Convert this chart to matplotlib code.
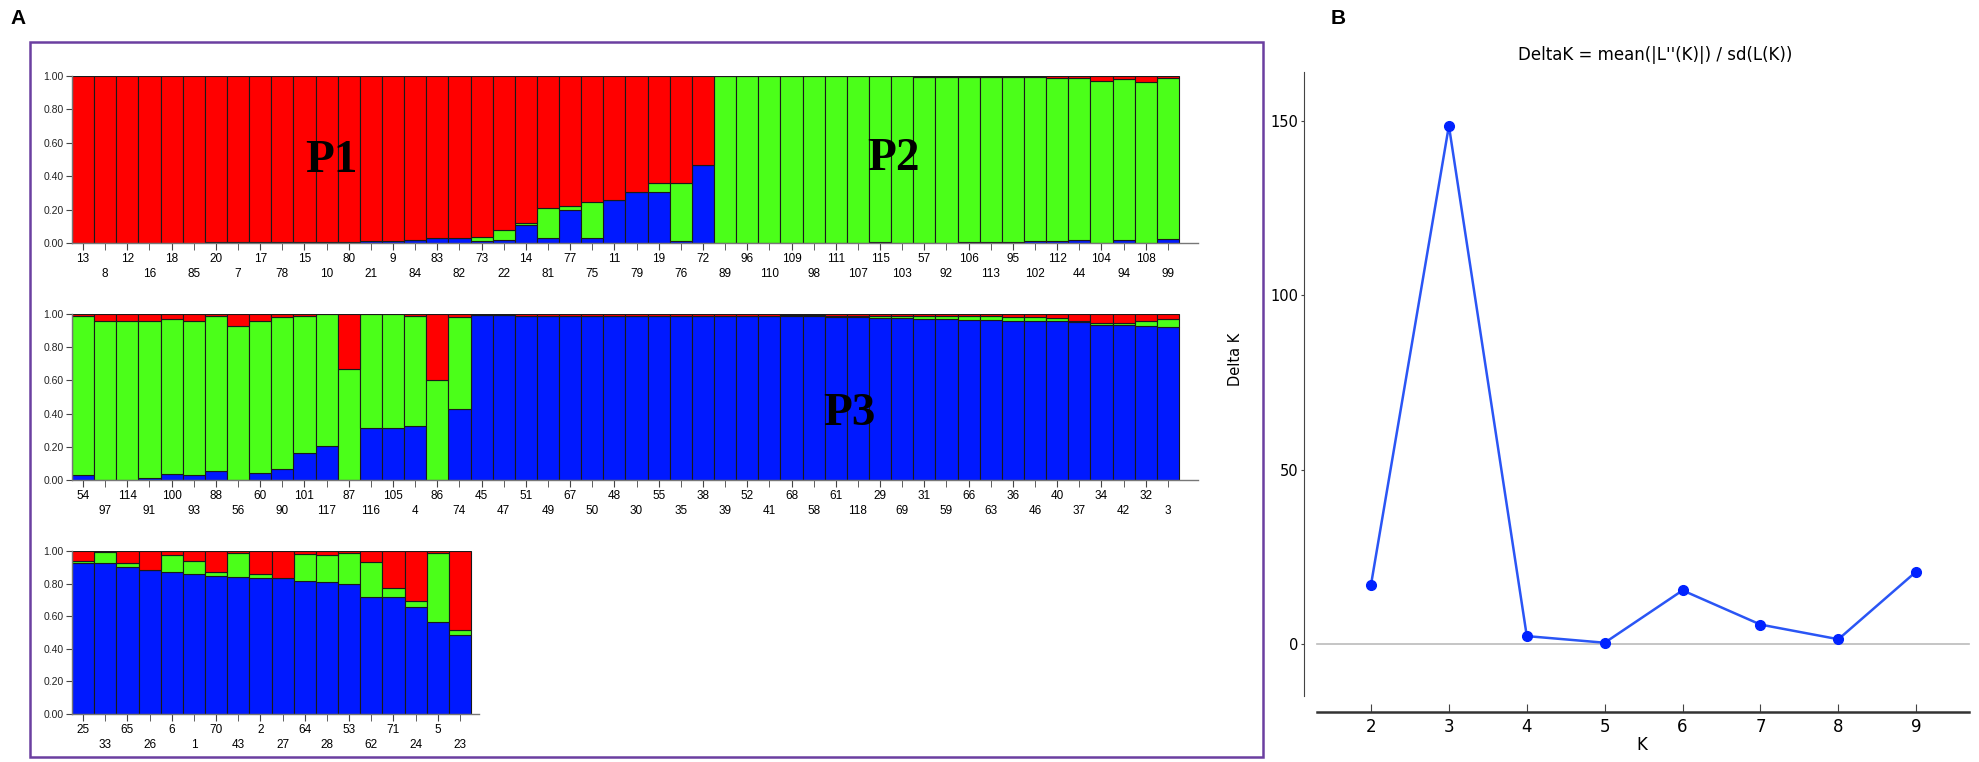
import matplotlib.pyplot as plt
import numpy as np
from matplotlib.patches import Rectangle

# --- STRUCTURE bar data (K=3), three rows of individuals ---
row1_labels = ['13', '8', '12', '16', '18', '85', '20', '7', '17', '78', '15', '10', '80', '21', '9', '84',
               '83', '82', '73', '22', '14', '81', '77', '75', '11', '79', '19', '76', '72', '89', '96', '110',
               '109', '98', '111', '107', '115', '103', '57', '92', '106', '113', '95', '102', '112', '44',
               '104', '94', '108', '99']
row1_blue = [0.0, 0.0, 0.0, 0.0, 0.0, 0.0, 0.005, 0.005, 0.005, 0.005, 0.005, 0.005, 0.008, 0.01, 0.012, 0.015,
             0.03, 0.03, 0.01, 0.015, 0.11, 0.03, 0.20, 0.03, 0.26, 0.307, 0.307, 0.01, 0.47,
             0.0, 0.0, 0.0, 0.0, 0.0, 0.0, 0.0, 0.005, 0.0, 0.0, 0.0, 0.005, 0.005, 0.005, 0.01, 0.01, 0.02,
             0.0, 0.015, 0.0, 0.025]
row1_green = [0.0, 0.0, 0.0, 0.0, 0.0, 0.0, 0.0, 0.0, 0.0, 0.0, 0.0, 0.0, 0.0, 0.0, 0.0, 0.0,
              0.0, 0.0, 0.025, 0.06, 0.01, 0.177, 0.02, 0.216, 0.0, 0.0, 0.051, 0.35, 0.0,
              1.0, 1.0, 1.0, 1.0, 1.0, 1.0, 1.0, 0.995, 1.0, 0.995, 0.995, 0.99, 0.99, 0.99, 0.985, 0.98, 0.97,
              0.97, 0.965, 0.965, 0.965]
row1_red = [1.0, 1.0, 1.0, 1.0, 1.0, 1.0, 0.995, 0.995, 0.995, 0.995, 0.995, 0.995, 0.992, 0.99, 0.988, 0.985,
            0.97, 0.97, 0.965, 0.925, 0.88, 0.793, 0.78, 0.754, 0.74, 0.693, 0.642, 0.64, 0.53,
            0.0, 0.0, 0.0, 0.0, 0.0, 0.0, 0.0, 0.0, 0.0, 0.005, 0.005, 0.005, 0.005, 0.005, 0.005, 0.01, 0.01,
            0.03, 0.02, 0.035, 0.01]

row2_labels = ['54', '97', '114', '91', '100', '93', '88', '56', '60', '90', '101', '117', '87', '116', '105',
               '4', '86', '74', '45', '47', '51', '49', '67', '50', '48', '30', '55', '35', '38', '39', '52',
               '41', '68', '58', '61', '118', '29', '69', '31', '59', '66', '63', '36', '46', '40', '37', '34',
               '42', '32', '3']
row2_blue = [0.03, 0.0, 0.0, 0.01, 0.036, 0.03, 0.056, 0.0, 0.044, 0.064, 0.16, 0.204, 0.0, 0.316, 0.316,
             0.326, 0.0, 0.43, 0.995, 0.995, 0.99, 0.99, 0.99, 0.99, 0.99, 0.99, 0.99, 0.99, 0.99, 0.99, 0.99,
             0.985, 0.985, 0.985, 0.98, 0.98, 0.975, 0.975, 0.97, 0.97, 0.965, 0.965, 0.96, 0.96, 0.955, 0.95,
             0.935, 0.935, 0.93, 0.92]
row2_green = [0.96, 0.96, 0.96, 0.95, 0.934, 0.93, 0.934, 0.93, 0.916, 0.916, 0.83, 0.796, 0.67, 0.684,
              0.684, 0.664, 0.60, 0.55, 0.0, 0.0, 0.0, 0.0, 0.0, 0.0, 0.0, 0.0, 0.0, 0.0, 0.0, 0.0, 0.0,
              0.005, 0.008, 0.008, 0.01, 0.01, 0.012, 0.012, 0.015, 0.015, 0.02, 0.02, 0.02, 0.02, 0.02, 0.01,
              0.01, 0.01, 0.03, 0.05]
row2_red = [0.01, 0.04, 0.04, 0.04, 0.03, 0.04, 0.01, 0.07, 0.04, 0.02, 0.01, 0.0, 0.33, 0.0, 0.0,
            0.01, 0.40, 0.02, 0.005, 0.005, 0.01, 0.01, 0.01, 0.01, 0.01, 0.01, 0.01, 0.01, 0.01, 0.01, 0.01,
            0.01, 0.007, 0.007, 0.01, 0.01, 0.013, 0.013, 0.015, 0.015, 0.015, 0.015, 0.02, 0.02, 0.025, 0.04,
            0.055, 0.055, 0.04, 0.03]

row3_labels = ['25', '33', '65', '26', '6', '1', '70', '43', '2', '27', '64', '28', '53', '62', '71', '24',
               '5', '23']
row3_blue = [0.924, 0.925, 0.904, 0.883, 0.873, 0.857, 0.849, 0.843, 0.832, 0.832, 0.816, 0.812, 0.80,
             0.716, 0.716, 0.658, 0.562, 0.485]
row3_green = [0.016, 0.07, 0.021, 0.0, 0.102, 0.083, 0.021, 0.147, 0.025, 0.0, 0.164, 0.163, 0.19,
              0.214, 0.059, 0.037, 0.428, 0.03]
row3_red = [0.06, 0.005, 0.075, 0.117, 0.025, 0.06, 0.13, 0.01, 0.143, 0.168, 0.02, 0.025, 0.01,
            0.07, 0.225, 0.305, 0.01, 0.485]

# --- Delta K data ---
k_values = [2, 3, 4, 5, 6, 7, 8, 9]
delta_k = [17, 148.5, 2.3, 0.4, 15.4, 5.6, 1.4, 20.8]

RED = '#ff0000'
GREEN = '#4bff19'
BLUE = '#0019ff'
EDGE = '#1a1a1a'

W, H = 1979, 762


def box(x0, y0, x1, y1):
    return [x0 / W, 1 - y1 / H, (x1 - x0) / W, (y1 - y0) / H]


def structure(ax, labels, blue, green, red, xmax):
    x = np.arange(len(labels))
    bot2 = np.add(blue, green)
    ax.bar(x, blue, 1.0, color=BLUE, edgecolor=EDGE, linewidth=0.8)
    ax.bar(x, green, 1.0, bottom=blue, color=GREEN, edgecolor=EDGE, linewidth=0.8)
    ax.bar(x, red, 1.0, bottom=bot2, color=RED, edgecolor=EDGE, linewidth=0.8)
    ax.set_xlim(-0.5, xmax)
    ax.set_ylim(0, 1.0)
    ax.set_yticks([0, 0.2, 0.4, 0.6, 0.8, 1.0])
    ax.set_yticklabels(['0.00', '0.20', '0.40', '0.60', '0.80', '1.00'], fontsize=7.5, color='#222222')
    ax.set_xticks(x[::2], labels[::2])
    ax.set_xticks(x[1::2], labels[1::2], minor=True)
    ax.tick_params(axis='x', which='major', length=5, pad=2, labelsize=8.5, color='#444444')
    ax.tick_params(axis='x', which='minor', length=5, pad=13, labelsize=8.5, color='#444444')
    ax.tick_params(axis='y', length=4, pad=2, color='#444444')
    for s in ['top', 'right']:
        ax.spines[s].set_visible(False)
    for s in ['left', 'bottom']:
        ax.spines[s].set_color('#777777')
        ax.spines[s].set_linewidth(1.0)
    for t in ax.get_xticklabels(which='both') + ax.get_yticklabels():
        t.set_family('Liberation Sans')


fig = plt.figure(figsize=(19.79, 7.62), dpi=100)

ax1 = fig.add_axes(box(72, 76, 1198, 243))
structure(ax1, row1_labels, row1_blue, row1_green, row1_red, 50.36)
ax1.text(11.2, 0.49, 'P1', fontsize=34, fontweight='bold', family='Liberation Serif', ha='center', va='center',
         transform=ax1.get_xaxis_transform())
ax1.text(36.6, 0.5, 'P2', fontsize=34, fontweight='bold', family='Liberation Serif', ha='center', va='center',
         transform=ax1.get_xaxis_transform())

ax2 = fig.add_axes(box(72, 314, 1198, 480))
structure(ax2, row2_labels, row2_blue, row2_green, row2_red, 50.36)
ax2.text(34.6, 0.40, 'P3', fontsize=34, fontweight='bold', family='Liberation Serif', ha='center', va='center',
         transform=ax2.get_xaxis_transform())

ax3 = fig.add_axes(box(72, 551, 479, 714))
structure(ax3, row3_labels, row3_blue, row3_green, row3_red, 17.86)

# purple frame around panel A
fig.patches.append(Rectangle((30 / W, 1 - 757 / H), 1233 / W, 715 / H, transform=fig.transFigure,
                             fill=False, edgecolor='#6b3fa0', linewidth=1.8))

fig.text(10 / W, 1 - 18 / H, 'A', fontsize=15, fontweight='bold', family='Liberation Sans', va='center')
fig.text(1331 / W, 1 - 18 / H, 'B', fontsize=15, fontweight='bold', family='Liberation Sans', va='center')

# --- Delta K panel ---
axb = fig.add_axes(box(1304, 72, 1979, 711.5))
axb.plot([1.31, 9.68], [0, 0], color='#bbbbbb', linewidth=1.2)
axb.plot(k_values, delta_k, color='#2a55f5', linewidth=1.8, marker='o', markersize=7,
         markerfacecolor='#0022ff', markeredgecolor='#0022ff')
axb.set_xlim(1.14, 9.805)
axb.set_ylim(-19.3, 163.9)
axb.set_xticks(k_values)
axb.set_yticks([0, 50, 100, 150])
axb.tick_params(axis='x', direction='in', length=6, labelsize=12, pad=5, color='#444444')
axb.tick_params(axis='y', direction='out', length=2, labelsize=10.5, pad=2, color='#444444')
axb.spines['top'].set_visible(False)
axb.spines['right'].set_visible(False)
axb.spines['left'].set_bounds(-14.8, 163.9)
axb.spines['left'].set_color('#444444')
axb.spines['bottom'].set_bounds(1.31, 9.68)
axb.spines['bottom'].set_color('#333333')
axb.spines['bottom'].set_linewidth(1.8)
axb.set_xlabel('K', fontsize=12, labelpad=0)
axb.set_ylabel('Delta K', fontsize=10.5, labelpad=8)
axb.yaxis.set_label_coords(-0.09, 0.55)
axb.set_title("DeltaK = mean(|L''(K)|) / sd(L(K))", fontsize=12, pad=9, x=0.52)

fig.savefig('out.png', dpi=100)
